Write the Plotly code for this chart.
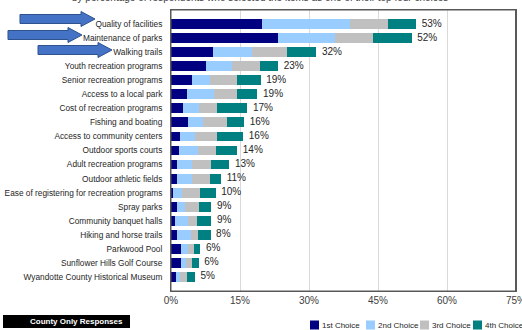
import plotly.graph_objects as go

categories = [
    "Quality of facilities", "Maintenance of parks", "Walking trails",
    "Youth recreation programs", "Senior recreation programs", "Access to a local park",
    "Cost of recreation programs", "Fishing and boating", "Access to community centers",
    "Outdoor sports courts", "Adult recreation programs", "Outdoor athletic fields",
    "Ease of registering for recreation programs", "Spray parks", "Community banquet halls",
    "Hiking and horse trails", "Parkwood Pool", "Sunflower Hills Golf Course",
    "Wyandotte County Historical Museum",
]
first_choice = [19.7, 23.3, 9.2, 7.6, 4.6, 3.5, 2.7, 3.8, 2.0, 1.7, 1.4, 1.4, 0.5, 1.4, 0.8, 1.4, 2.2, 2.2, 1.1]
second_choice = [19.2, 12.4, 8.3, 5.6, 3.9, 5.8, 3.4, 3.1, 3.2, 4.2, 3.2, 3.2, 1.8, 1.6, 2.8, 2.9, 1.5, 1.1, 0.9]
third_choice = [8.3, 8.3, 7.7, 6.1, 5.9, 5.0, 3.9, 5.2, 4.8, 3.9, 4.0, 3.8, 4.1, 3.0, 2.1, 1.6, 1.4, 1.3, 1.5]
fourth_choice = [6.1, 8.3, 6.4, 4.0, 5.1, 4.5, 6.6, 3.8, 5.7, 4.6, 4.1, 2.5, 3.3, 2.8, 3.1, 2.7, 1.3, 1.4, 1.7]
total_labels = [53, 52, 32, 23, 19, 19, 17, 16, 16, 14, 13, 11, 10, 9, 9, 8, 6, 6, 5]
series_names = ["1st Choice", "2nd Choice", "3rd Choice", "4th Choice"]
series_colors = ["#000080", "#99CCFF", "#C0C0C0", "#008080"]
x_ticks = [0, 15, 30, 45, 60, 75]

FONT = "Liberation Sans, Arial, sans-serif"

fig = go.Figure()
for name, vals, col in zip(series_names, [first_choice, second_choice, third_choice, fourth_choice], series_colors):
    fig.add_trace(go.Bar(y=categories, x=vals, name=name, orientation="h",
                         marker=dict(color=col, line=dict(width=0)), showlegend=False))

totals = [a + b + c + d for a, b, c, d in zip(first_choice, second_choice, third_choice, fourth_choice)]
fig.add_trace(go.Scatter(y=categories, x=totals, mode="text",
                         text=[f"  {t}%" for t in total_labels], textposition="middle right",
                         textfont=dict(size=10, color="#262626", family=FONT),
                         showlegend=False, hoverinfo="skip"))

# plot area in pixels
L, R, T, B = 171, 516, 10, 291
W, H = R - L, B - T

def px(x):
    return (x - L) / W

def py(y):
    return 1 - (y - T) / H

def arrow(x0, x1, yc):
    hh = 7.5   # head half-height
    sh = 4.5   # shaft half-height
    hx = x1 - 14
    pts = [(x0, yc - sh), (hx, yc - sh), (hx, yc - hh), (x1, yc), (hx, yc + hh), (hx, yc + sh), (x0, yc + sh)]
    d = "M " + " L ".join(f"{px(a):.4f},{py(b):.4f}" for a, b in pts) + " Z"
    return dict(type="path", xref="paper", yref="paper", path=d,
                fillcolor="#4472C4", line=dict(color="#2F528F", width=1))

shapes = [arrow(20, 95, 19), arrow(8, 82, 35), arrow(38, 112, 50)]
shapes.append(dict(type="rect", xref="paper", yref="paper", x0=px(3), x1=px(130), y0=py(328), y1=py(315),
                   fillcolor="black", line=dict(width=0)))
# plot border
shapes.append(dict(type="rect", xref="paper", yref="paper", x0=0, x1=px(515.5), y0=0, y1=1,
                   line=dict(color="#595959", width=1), layer="above"))

annotations = [
    dict(text="<b>County Only Responses</b>", xref="paper", yref="paper", x=px(125), y=py(321.5),
         xanchor="right", yanchor="middle", showarrow=False,
         font=dict(size=8, color="white", family=FONT)),
    dict(text="by percentage of respondents who selected the items as one of their top four choices",
         xref="paper", yref="paper", x=px(260), y=py(-2.5), xanchor="center", yanchor="middle",
         showarrow=False, font=dict(size=10, color="#404040", family=FONT)),
]

# legend (drawn manually to match compact layout)
legend_x = [310, 366, 420, 473]
for name, col, lx in zip(series_names, series_colors, legend_x):
    shapes.append(dict(type="rect", xref="paper", yref="paper", x0=px(lx), x1=px(lx + 9),
                       y0=py(329.5), y1=py(320.5), fillcolor=col, line=dict(width=0)))
    annotations.append(dict(text=name, xref="paper", yref="paper", x=px(lx + 10), y=py(325),
                            xanchor="left", yanchor="middle", showarrow=False,
                            font=dict(size=8, color="#262626", family=FONT)))

fig.update_layout(
    width=522, height=330,
    margin=dict(l=L, r=522 - R, t=T, b=330 - B, autoexpand=False),
    barmode="stack", bargap=0.3,
    paper_bgcolor="white", plot_bgcolor="white",
    font=dict(family=FONT, size=9, color="#262626"),
    showlegend=False,
    xaxis=dict(range=[0, 75], tickvals=x_ticks, ticktext=[f"{v}%" for v in x_ticks],
               showgrid=True, gridcolor="#D9D9D9", gridwidth=1, zeroline=False,
               showline=True, linecolor="#595959", mirror=True, linewidth=1,
               tickfont=dict(size=10, color="#404040"), ticks="", ticklen=0,
               ticklabeloverflow="allow"),
    yaxis=dict(autorange="reversed", showgrid=False, showline=True, linecolor="#595959",
               mirror=True, linewidth=1, tickfont=dict(size=8.3, color="#262626"), ticks="",
               ticklabelstandoff=6),
    shapes=shapes,
    annotations=annotations,
)
fig.write_html("out.html", config={"displayModeBar": False},
               post_script="document.body.style.margin='0px';document.body.style.overflow='hidden';")
